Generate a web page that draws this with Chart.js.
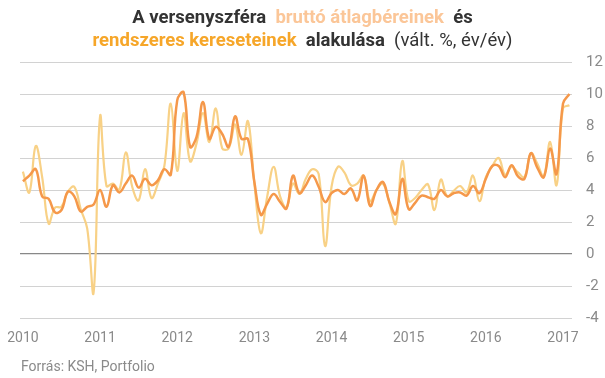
<!DOCTYPE html>
<html>
<head>
<meta charset="utf-8">
<script src="https://cdn.jsdelivr.net/npm/chart.js@4"></script>
<style>
  html, body { margin: 0; padding: 0; background: #fff; }
  #wrap { position: relative; width: 605px; height: 378px; font-family: Roboto, "Noto Sans", sans-serif; }
  #title { position: absolute; top: 6px; left: 0; width: 605px; text-align: center; font-size: 18.5px; line-height: 23px; font-weight: bold; color: #333; }
  #title .light { color: #fbc698; }
  #title .orange { color: #f6a629; }
  #title .norm { font-weight: normal; }
  #source { position: absolute; left: 21px; top: 358px; font-size: 14px; color: #8a8a8a; }
  canvas { position: absolute; left: 0; top: 0; }
</style>
</head>
<body>
<div id="wrap">
  <canvas id="chart" width="605" height="378"></canvas>
  <div id="title">
    A versenyszféra&nbsp; <span class="light">bruttó átlagbéreinek</span>&nbsp; és<br>
    <span class="orange">rendszeres kereseteinek</span>&nbsp; alakulása&nbsp; <span class="norm">(vált. %, év/év)</span>
  </div>
  <div id="source">Forrás: KSH, Portfolio</div>
</div>
<script>
// monthly data, Jan 2010 - Feb 2017
const yearLabels = ["2010", "2011", "2012", "2013", "2014", "2015", "2016", "2017"];

const rendszeres = [
  4.55, 4.9, 5.3, 3.6, 3.45, 2.6, 2.75, 3.9, 3.6, 2.65,
  2.95, 3.1, 4.0, 2.95, 4.3, 3.85, 4.4, 4.9, 4.15, 4.7,
  4.3, 4.6, 5.3, 4.95, 9.6, 10.1, 6.7, 7.3, 9.5, 7.2,
  7.95, 7.5, 6.7, 8.6, 7.2, 7.2, 4.5, 2.45, 3.15, 3.75,
  3.25, 2.85, 4.9, 3.8, 4.3, 4.9, 4.2, 3.25, 3.8, 4.0,
  3.75, 4.1, 3.35, 4.9, 3.0, 4.0, 4.5, 3.25, 2.5, 4.7,
  2.8, 3.2, 3.65, 3.55, 3.45, 4.0, 3.6, 3.8, 3.85, 3.65,
  4.25, 3.8, 4.7, 5.5, 5.5, 4.8, 5.55, 4.85, 4.7, 6.3,
  5.4, 4.8, 6.6, 5.0, 9.4, 10.0
];

const brutto = [
  5.15, 3.85, 6.75, 4.8, 1.9, 2.9, 2.95, 3.9, 4.2, 2.8,
  1.6, -2.4, 8.6, 4.25, 4.4, 4.0, 6.35, 4.2, 3.35, 5.3,
  3.5, 4.4, 5.5, 9.4, 5.2, 8.8, 5.8, 6.9, 8.8, 7.0,
  9.1, 6.6, 6.6, 8.1, 6.2, 8.3, 4.4, 1.3, 3.6, 5.45,
  3.6, 2.9, 4.4, 3.75, 4.7, 5.3, 5.0, 0.5, 4.2, 5.45,
  5.1, 4.3, 4.4, 4.9, 3.3, 4.0, 4.4, 3.2, 1.9, 5.8,
  3.3, 3.5, 4.0, 4.35, 2.75, 4.65, 3.6, 3.95, 4.25, 3.85,
  4.9, 3.3, 4.8, 5.5, 6.0, 4.95, 5.45, 5.1, 4.8, 6.3,
  5.65, 4.85, 7.0, 4.3, 9.1, 9.3
];

const toPoints = arr => arr.map((v, i) => ({ x: i, y: v }));

new Chart(document.getElementById("chart"), {
  type: "line",
  data: {
    datasets: [
      {
        label: "rendszeres keresetek",
        data: toPoints(rendszeres),
        borderColor: "#f5984a",
        borderWidth: 2.5,
        pointRadius: 0,
        tension: 0.4,
        fill: false
      },
      {
        label: "bruttó átlagbérek",
        data: toPoints(brutto),
        borderColor: "#f8d186",
        borderWidth: 2.2,
        pointRadius: 0,
        tension: 0.4,
        fill: false
      }
    ]
  },
  options: {
    responsive: false,
    animation: false,
    layout: { padding: { left: 20, right: 0, top: 62, bottom: 30 } },
    plugins: {
      legend: { display: false },
      tooltip: { enabled: false }
    },
    scales: {
      x: {
        type: "linear",
        min: -0.45,
        max: 85.4,
        grid: { display: false },
        border: { display: false },
        afterBuildTicks: scale => {
          scale.ticks = yearLabels.map((_, k) => ({ value: k * 12 }));
        },
        afterFit: scale => { scale.height = 30; },
        ticks: {
          autoSkip: false,
          maxRotation: 0,
          padding: 4,
          color: "#8a8a8a",
          font: { family: "Roboto", size: 14 },
          callback: v => yearLabels[v / 12]
        }
      },
      y: {
        position: "right",
        min: -4,
        max: 12,
        border: { display: false },
        grid: {
          drawTicks: false,
          color: ctx => (ctx.tick && ctx.tick.value === 0 ? "#888888" : "#d2d2d2"),
          lineWidth: ctx => (ctx.tick && ctx.tick.value === 0 ? 1.3 : 1)
        },
        afterFit: scale => { scale.width = 33; },
        ticks: {
          stepSize: 2,
          padding: 14,
          color: "#8a8a8a",
          font: { family: "Roboto", size: 15 }
        }
      }
    }
  }
});
</script>
</body>
</html>
